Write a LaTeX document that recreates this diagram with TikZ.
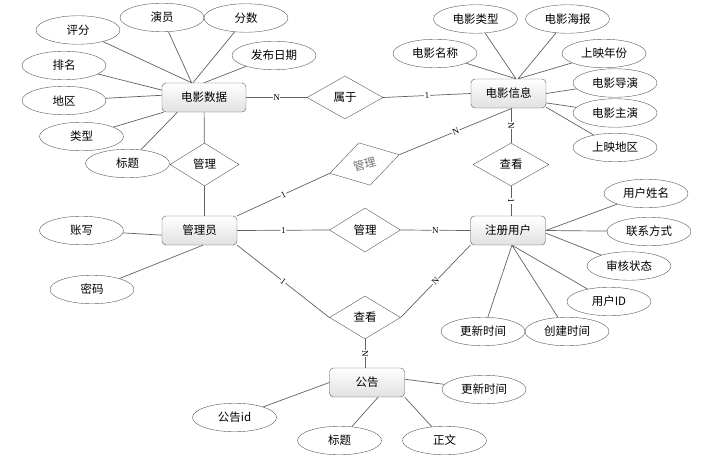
\documentclass[tikz,border=0pt]{standalone}
\usepackage{fontspec}
\setmainfont{Liberation Serif}
\newfontfamily\cjk{Noto Sans CJK SC}
\usetikzlibrary{shapes.geometric}

\tikzset{
  ent/.style={draw=black!65, rounded corners=4pt, top color=white, bottom color=black!12,
    minimum width=75pt, minimum height=29pt, inner sep=0pt},
  attr/.style={ellipse, draw=black!65, fill=white, minimum width=84pt, minimum height=28.5pt, inner sep=0pt},
  rel/.style={diamond, draw=black!65, fill=white, minimum width=71pt, minimum height=43pt, inner sep=0pt},
  card/.style={fill=white, inner sep=0.6pt, sloped, font=\rmfamily\fontsize{9}{9}\selectfont},
  link/.style={draw=black!62, line width=0.7pt}
}

\begin{document}
\begin{tikzpicture}[x=1pt, y=-1pt, font=\cjk\fontsize{11.5}{13}\selectfont]

  \useasboundingbox (0,0) rectangle (703,468);

  %% entities
  \node[ent, minimum width=84pt] (data) at (204,97.5) {电影数据};
  \node[ent] (info)   at (508.5,93.5) {电影信息};
  \node[ent] (admin)  at (199.5,230.5) {管理员};
  \node[ent] (user)   at (508,230.5) {注册用户};
  \node[ent] (notice) at (367,382.5) {公告};

  %% relations
  \node[rel, minimum width=76pt] (belong) at (345,97.5) {属于};
  \node[rel, minimum width=69pt] (mgA) at (204.5,164.5) {管理};
  \node[rel, rotate=15, minimum width=72pt, minimum height=44pt, text=black!55] (mgB) at (364.5,164) {管理};
  \node[rel, minimum width=76pt] (viewA) at (511,164.5) {查看};
  \node[rel, minimum height=44pt] (mgC) at (365,230) {管理};
  \node[rel] (viewB) at (365,317.5) {查看};

  %% attributes of data
  \node[attr] (d1) at (78,30) {评分};
  \node[attr] (d2) at (162,17.5) {演员};
  \node[attr] (d3) at (246,18) {分数};
  \node[attr] (d4) at (274,55.5) {发布日期};
  \node[attr] (d5) at (64,65.5) {排名};
  \node[attr] (d6) at (64,100.5) {地区};
  \node[attr] (d7) at (81.5,136.5) {类型};
  \node[attr] (d8) at (127.5,163.5) {标题};

  %% attributes of info
  \node[attr] (i1) at (475.5,19) {电影类型};
  \node[attr] (i2) at (567.5,19) {电影海报};
  \node[attr] (i3) at (435,53.5) {电影名称};
  \node[attr] (i4) at (604,53.5) {上映年份};
  \node[attr] (i5) at (615,83) {电影导演};
  \node[attr] (i6) at (615,113) {电影主演};
  \node[attr] (i7) at (615,147.5) {上映地区};

  %% attributes of user
  \node[attr] (u1) at (646,193.5) {用户姓名};
  \node[attr] (u2) at (649,231.5) {联系方式};
  \node[attr] (u3) at (629,266) {审核状态};
  \node[attr] (u4) at (609,301.5) {用户ID};
  \node[attr] (u5) at (567,331.5) {创建时间};
  \node[attr] (u6) at (483,331.5) {更新时间};

  %% attributes of admin
  \node[attr] (a1) at (81.5,230.5) {账写};
  \node[attr] (a2) at (92,289.5) {密码};

  %% attributes of notice
  \node[attr] (n1) at (234.5,417.5) {公告id};
  \node[attr] (n2) at (339.5,440.5) {标题};
  \node[attr] (n3) at (444.5,440.5) {正文};
  \node[attr] (n4) at (484,389.5) {更新时间};

  %% attribute links
  \path[link] (d1) -- (data.130) (d2) -- (data.130) (d3) -- (data.127) (d4) -- (data.north)
              (d5) -- (data.170) (d6) -- (data.177) (d7) -- (data.200) (d8) -- (data.209);
  \path[link] (i1) -- (info.63) (i3) -- (info.63) (i2) -- (info.57) (i4) -- (info.57)
              (i5) -- (info.east) (i6) -- (info.346) (i7) -- (info.340);
  \path[link] (u1) -- (user.east) (u2) -- (user.east) (u3) -- (user.356)
              (u4) -- (user.285) (u5) -- (user.285) (u6) -- (user.285);
  \path[link] (a1) -- (admin.187) (a2) -- (admin.283);
  \path[link] (n1) -- (notice.west) (n2) -- (notice.307) (n3) -- (notice.south east) (n4) -- (notice.5);

  %% relation links
  \path[link] (data.east) -- node[card]{N} (belong.west); %% data-belong
  \path[link] (belong.east) -- node[card]{1} (info.west); %% belong-info
  \path[link] (data) -- (mgA); %% data-mgA
  \path[link] (mgA.south) -- (mgA.south |- admin.north); %% mgA-admin
  \path[link] (admin.north east) -- node[card]{1} (mgB.west); %% admin-mgB
  \path[link] (mgB.east) -- node[card]{N} (info.284); %% mgB-info
  \path[link] (viewA.north |- info.south) -- node[card]{N} (viewA.north); %% info-viewA
  \path[link] (viewA.south) -- node[card]{1} (viewA.south |- user.north); %% viewA-user
  \path[link] (admin.east) -- node[card]{1} (mgC.west); %% admin-mgC
  \path[link] (mgC.east) -- node[card]{N} (user.west); %% mgC-user
  \path[link] (admin.south east) -- node[card]{1} (viewB.west); %% admin-viewB
  \path[link] (viewB.east) -- node[card]{N} (user.south west); %% viewB-user
  \path[link] (viewB.south) -- node[card]{N} (viewB.south |- notice.north); %% viewB-notice

\end{tikzpicture}
\end{document}
